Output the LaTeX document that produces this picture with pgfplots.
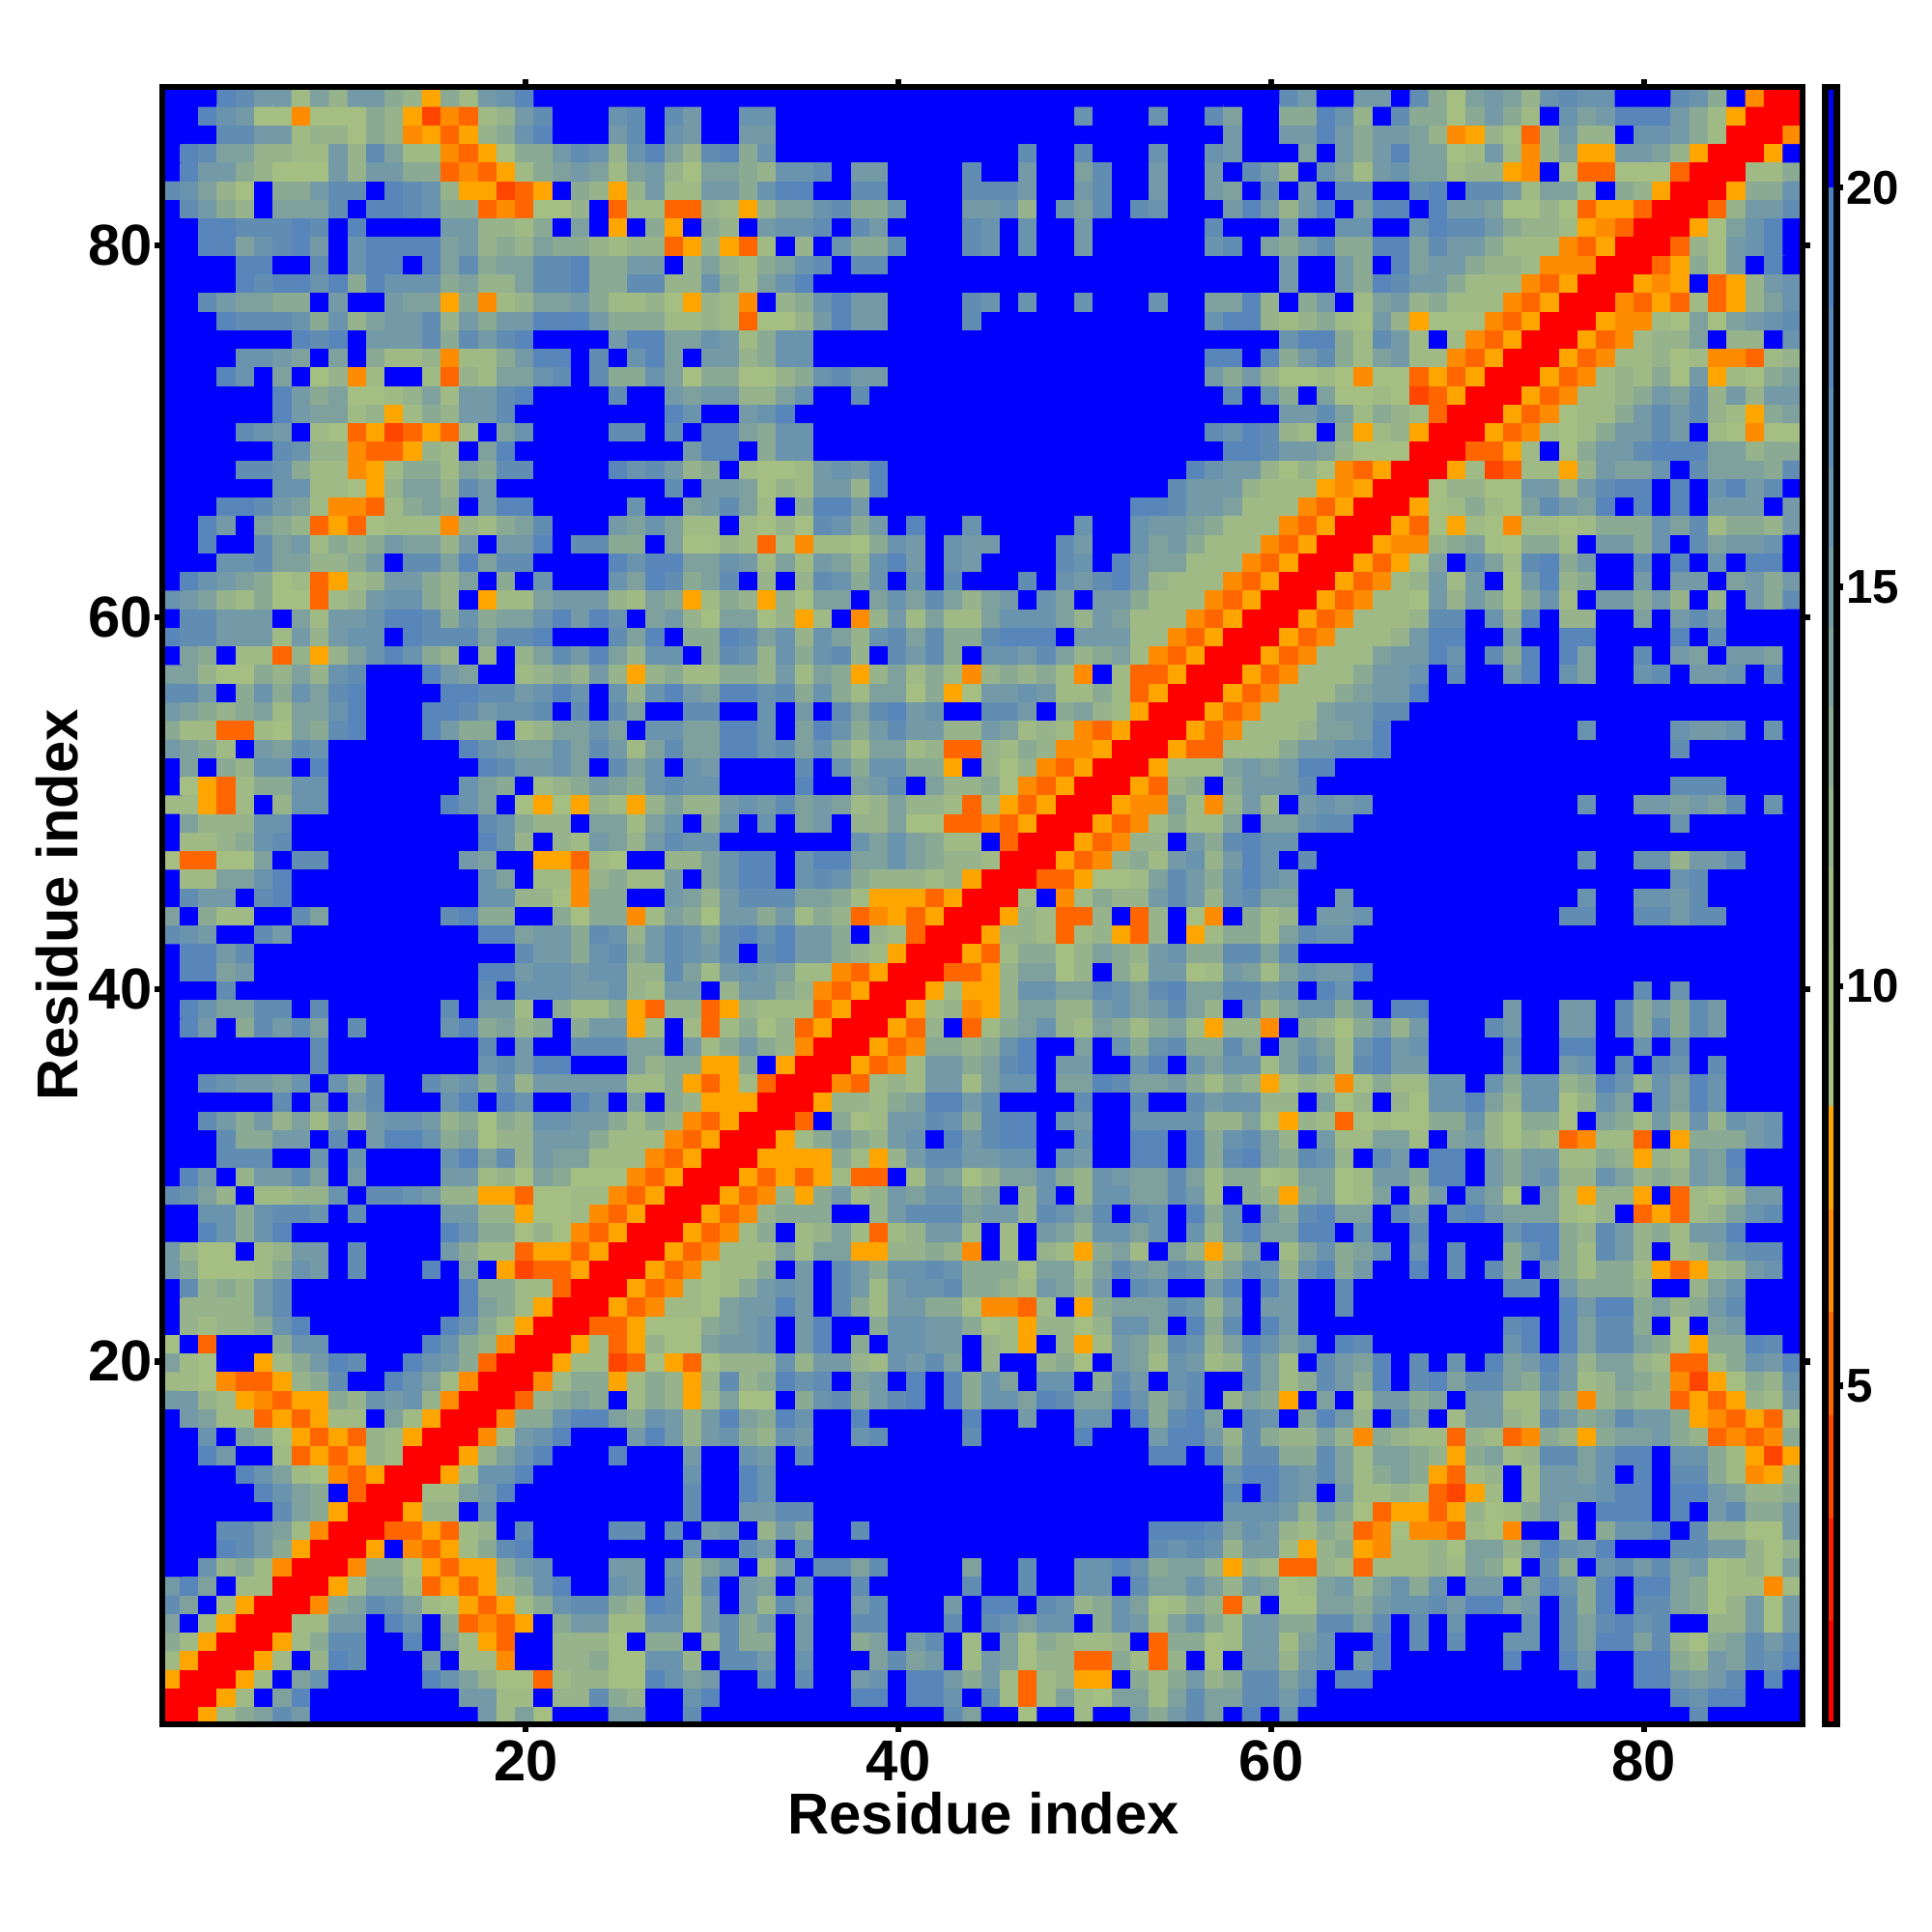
\documentclass[border=0pt]{standalone}
\usepackage{fontspec}
\setmainfont{Liberation Sans}
\usepackage{pgfplots}
\pgfplotsset{compat=1.18}
\newcount\cx \newcount\cy
\def\R#1#2#3{\cy=#1\relax\cx=#2\relax\advance\cx by -1\relax\scan#3 @ }
\def\scan#1 {\ifx @#1\else\advance\cx by 1\relax
 \ifnum\cx>\cy\else
 \expandafter\gdef\csname M\the\cx.\the\cy\endcsname{#1}%
 \expandafter\gdef\csname M\the\cy.\the\cx\endcsname{#1}\fi
 \expandafter\scan\fi}
% y = 88 ... 1: values from the start column given, for x <= y; cells not listed are > 20 (value 21)
\R{88}{1}{21 21 21 18 17 15 15 11 14 12 15 15 13 12 8 13 11 15 16 18}
\R{88}{61}{17 15 21 21 15 15}
\R{88}{67}{21 17 13 10 14 15 14 12 16 17 16 16 21 21 21 17 16 13 21 6 2 2}
\R{87}{1}{21 21 18 16 15 10 10 6 10 10 10 13 12 8 4 6 5 11 12 15 17 21}
\R{87}{25}{16 17 21 17 15 21 21 16 16}
\R{87}{50}{16}\R{87}{54}{16}
\R{87}{57}{17 14 21 21 13 13 18 16 12 21}
\R{87}{67}{17 13 13 10 13 15 13 11 21 16 14 15 18 18 18 15 13 11 8 2 2}
\R{86}{1}{21 21 21 17 17 15 15 11 12 12 10 13 12 6 8 5 8 12 13 16 18 21}
\R{86}{25}{15 17 21 16 15 21 21 15 15}
\R{86}{58}{15 21 21 15 15 18 15 13 15}
\R{86}{67}{15 14 12 6 8 12 10 5 12 15 12 12 21 16 16 15 13 11 2 2}
\R{85}{1}{21 18 17 14 14 12 12 11 11 15 12 17 14 11 11 6 5 8 10 13 13 15}
\R{85}{23}{17 16 12 16 18 14 12 17 18 13 16}
\R{85}{47}{17}\R{85}{50}{17}\R{85}{54}{16}
\R{85}{57}{16 15 21 21 21 14 21 15 13 15}
\R{85}{67}{18 14 14 10 11 15 11 6 12 14 8 8 15 15 14 12 8 2 2}
\R{84}{1}{21 18 15 15 13 12 10 10 10 15 12 15 15 13 13 5 6 5 8 11 13 14}
\R{84}{23}{15 14 11 14 15 12 10 14 14 13 12 16 16 17 21 15 15 21 21 21 21 17}
\R{84}{47}{15}\R{84}{50}{14 17}\R{84}{54}{15}
\R{84}{57}{15 21 17 15 12 21 16 14 11 15}
\R{84}{67}{16 14 14 11 12 12 8 6 21 10 5 5 10 10 10 5 2 2}
\R{83}{1}{17 16 14 12 10 21 13 13 15 17 17 21 18 17 16 12 8 8 4 5 8 21}
\R{83}{23}{13 12 8 12 15 11 11 15 15 13 16 18 18 21 21 17 17 21 21 21 21 17}
\R{83}{45}{17 17 15}\R{83}{50}{15 17}\R{83}{54}{15}
\R{83}{57}{15 14 21 17 21 15 21 17 17 21}
\R{83}{67}{21 17 18 21 17 17 15 11 14 14 11 21 13 12 8 2 2}
\R{82}{1}{21 17 15 13 12 21 14 14 14 17 21 18 18 17 16 13 13 5 6 5 10 10}
\R{82}{23}{12 21 5 11 11 5 5 12 11 8 12 14 14 16 17 13 13 16 21 21 21 15}
\R{82}{45}{15 16 12 21 16 14 17 21 17 16}
\R{82}{58}{15 18 15 12 15 18 21 14 18}
\R{82}{67}{18 21 18 15 15 14 10 10 12 10 5 8 8 5 2 2}
\R{81}{1}{21 21 18 18 17 17 17 18 17 21 18 21 21 21 21 15 15 12 12 11 13 21}
\R{81}{23}{14 21 8 21 13 8 21 13 12 21 15 16 16 17 21 17 15 21 21 21 21 17}
\R{81}{45}{16 21 16}\R{81}{50}{15}
\R{81}{57}{17 21 21 21 15 21 21 16 16 21}
\R{81}{67}{21 16 18 17 17 15 13 12 12 11 8 6 5 2 2}
\R{80}{1}{21 21 18 18 14 16 17 18 15 21 16 18 18 18 18 14 15 12 13 12 14 13}
\R{80}{23}{13 12 11 12 12 5 8 12 8 5 11 21 12 21 16 13 13 17 21 21 21 17}
\R{80}{45}{16 21 16}\R{80}{50}{15}
\R{80}{57}{16 17 21 14 13 15 17 13 13 18}
\R{80}{67}{18 14 17 15 15 13 11 11 11 6 5 8 2 2}
\R{79}{1}{21 21 21 21 18 18 21 21 17 21 16 18 18 21 18 14 17 13 14 14 17 17}
\R{79}{23}{18 13 13 15 15 21 12 14 12 11 13 14 16 17 21 17 17}
\R{79}{61}{15 21 21 15 13 21}
\R{79}{67}{18 14 15 15 13 12 12 11 6 6 6 2 2}
\R{78}{1}{21 21 21 21 18 17 18 18 16 18 13 18 16 16 16 13 14 12 12 14 17 17}
\R{78}{23}{18 13 13 17 17 12 12 16 13 11 14 16 18}
\R{78}{61}{15 21 21 15 13 18}
\R{78}{67}{17 15 15 13 11 11 11 6 5 8 2 2}
\R{77}{1}{21 21 17 15 14 14 13 13 21 15 21 21 15 14 14 8 13 6 11 12 14 14}
\R{77}{23}{15 13 11 11 12 10 8 12 11 6 21 12 13 16 18 15 15 21 21 21 21 17}
\R{77}{45}{16 21 16}\R{77}{50}{16}\R{77}{54}{16}
\R{77}{57}{14 14 18 12 21 13 15 21 11 14}
\R{77}{67}{15 12 13 11 11 11 6 5 8 2 2}
\R{76}{1}{21 21 21 18 17 17 17 16 13 16 12 14 15 15 17 12 15 13 15 15 18 18}
\R{76}{23}{18 15 13 13 13 11 11 12 11 5 10 10 12 15 18 15 15 21 21 21 21 17}
\R{76}{57}{16 18 18 12 11 12 13 11 10 15}
\R{76}{67}{12 8 10 10 10 6 5 8 2 2}
\R{75}{8}{18 17 18 21 15 15 15 17 13 17 15 17 18 21 21}
\R{75}{23}{21 21 15 18 18 14 14 16 15 11 13 16 16}
\R{75}{61}{16 18 18 13 11 17}
\R{75}{67}{15 11 21 11 6 5 8 2 2}
\R{74}{1}{21 21 21 21 16 16 15 14 21 14 21 13 11 11 12 6 11 11 13 15 18 18}
\R{74}{23}{21 17 21 16 18 14 21 15 15 12 13 16 16}
\R{74}{57}{18 18 21 18 13 15 17 13 11 14}
\R{74}{67}{15 11 11 6 5 8 2 2}
\R{73}{1}{21 21 21 18 16 21 14 21 10 12 6 11 21 21 11 5 12 11 14 14 16 17}
\R{73}{23}{21 17 13 13 16 14 10 13 13 10 10 12 13 16 17 15 15}
\R{73}{57}{15 13 15 12 10 10 11 9 6 10}
\R{73}{67}{10 5 8 5 8 2 2}
\R{72}{7}{18 15 13 14 10 10 11 12 14 11 15 15 17 18 21 21}
\R{72}{23}{21 21 17 21 21 15 14 15 15 12 12 14 16 21 21 17}
\R{72}{58}{17 21 16 13 21 14 10 10 11}
\R{72}{67}{10 4 5 8 2 2}
\R{71}{7}{18 15 14 14 11 12 8 11 13 12 15 15 17}
\R{71}{28}{18 16 21 21 15 16 18}
\R{71}{61}{15 15 17 14 11 13}
\R{71}{67}{12 11 5 2 2}
\R{70}{1}{21 21 21 21 17 16 15 21 11 10 5 8 4 5 8 5 11 21 14 16}
\R{70}{25}{17 17 21 17 21 18 18 14 13 16 16}
\R{70}{57}{17 16 18 17 12 11 21 13 8 11}
\R{70}{67}{12 8 2 2}
\R{69}{7}{17 16 12 12 6 5 5 8 12 11 21 14 18}
\R{69}{29}{15 18 18 21 13 16 16}
\R{69}{58}{18 18 17 15 15 14 12 10 10}
\R{69}{67}{10 2 2}
\R{68}{5}{17 17 16 13 11 11 6 8 11 13 13 11 14 13 17 17}
\R{68}{25}{18 16 17 15 12 13 21 11 10 10 11 15 16 15 18}
\R{68}{56}{18 16 15 15 12 10 12 10 6 5 8}
\R{68}{67}{2 2}
\R{67}{7}{16 16 11 11 10 8 12 14 14 12 17 15}
\R{67}{28}{17 21 15 15 14 10 12 11 15 15 12 18}
\R{67}{55}{17 15 15 15 12 11 11 11 8 6 8 2}
\R{67}{67}{2}
\R{66}{1}{21 21 21 18 18 17 15 14 11 6 6 5 11 13 14 13 21 15 18 18 21 21}
\R{66}{23}{21 21 21 16 21 21 14 15 17 14 11 21 13 18 18 15}
\R{66}{53}{18 18 17 15 15 14 11 11 11 6 5 8 2 2}
\R{65}{1}{21 21 18 15 21 14 13 12 5 8 5 10 11 11 11 6 12 11 13 14 17 21}
\R{65}{23}{21 21 15 14 16 14 11 11 21 11 10 12 10 17 16 13 15 21 18 21 21 16}
\R{65}{50}{16 21 21 16 15 15 14 13 11 11 11 6 5 8 2 2}
\R{64}{1}{21 21 18 21 21 17 14 15 11 13 12 13 15 14 14 12 15 21 15 15 18 21}
\R{64}{23}{17 17 13 13 21 14 10 10 12 11 5 10 6 11 11 10 13 16 15 21 16 15}
\R{64}{45}{15 21 21 21 17 15 21 21 16 14 15 13 11 11 11 6 5 8 2 2}
\R{63}{1}{21 21 21 16 16 17 14 14 12 12 13 15 21 17 17 14 18 14 17 17 21 21}
\R{63}{23}{21 21 18 16 18 18 14 14 16 15 11 14 11 15 14 12 16 18 15 21 16 15}
\R{63}{45}{21 21 21 21 17 16 21 18 15 14 14 11 11 11 6 5 8 2 2}
\R{62}{1}{21 18 16 15 14 13 10 11 5 8 11 12 15 15 13 12 14 21 13 21 16 21}
\R{62}{23}{21 21 16 14 18 17 13 14 17 21 12 21 12 17 16 13 16 21 16 21 17 21}
\R{62}{45}{21 21 17 21 16 15 17 18 15 12 11 11 11 6 5 8 2 2}
\R{61}{1}{16 15 14 12 11 13 10 10 5 11 12 15 16 16 13 12 21 8 11 11 14 15}
\R{61}{23}{15 15 12 11 14 13 8 11 13 12 8 12 10 14 14 21 14 16 14 17 14 12}
\R{61}{45}{14 15 21 16 14 21 15 15 13 11 11 11 6 5 8 2 2}
\R{60}{1}{21 17 17 15 15 15 21 14 11 15 15 16 18 18 17 13 16 13 14 14 16 18}
\R{60}{23}{15 18 16 21 14 15 12 10 14 14 10 12 8 11 21 6 12 15 11 14 11 11}
\R{60}{45}{14 16 16 16 14 12 15 14 11 11 11 6 5 8 2 2}
\R{59}{1}{18 17 17 15 15 15 11 15 12 15 16 16 21 18 17 17 17 14 17 17 18 21}
\R{59}{23}{21 21 17 14 18 21 13 13 18 17 14 16 12 16 14 12 16 17 14 17 13 13}
\R{59}{45}{17 18 18 18 21 15 15 15 11 11 6 5 8 2 2}
\R{58}{1}{21 14 13 21 11 11 5 12 8 12 14 16 18 16 13 12 21 12 21 12 14 17}
\R{58}{23}{15 18 14 12 16 16 21 13 17 16 12 16 13 16 17 12 21 17 15 17 13 21}
\R{58}{45}{16 16 15 17 14 12 13 14 11 6 5 8 2 2}
\R{57}{1}{14 14 12 10 10 13 12 14 12 16 17 21 21 21 18 15 14 21 21 11 12 13}
\R{57}{23}{12 15 12 8 12 13 11 11 13 13 12 15 11 14 13 8 12 14 11 13 11 6}
\R{57}{45}{12 13 12 13 11 6 21 11 5 5 8 2 2}
\R{56}{1}{17 17 15 21 13 16 13 16 14 17 18 21 21 21 21 18 18 17 17 15 16 18}
\R{56}{23}{16 21 16 12 16 18 15 14 18 18 16 17 13 16 13 11 14 14 10 13 8 10}
\R{56}{45}{15 15 16 15 11 11 13 11 5 8 2 2}
\R{55}{1}{15 14 13 12 13 14 11 14 14 16 18 21 21 21 18 18 17 15 16 16 17 21}
\R{55}{23}{17 21 17 14 21 21 17 17 21 21 16 21 15 21 17 14 17 18 15 16 21 21}
\R{55}{45}{17 17 15 21 13 14 12 11 8 2 2}
\R{54}{1}{13 11 11 5 5 11 10 14 13 17 18 21 21 21 18 15 13 13 21 11 12 14}
\R{54}{23}{14 16 14 21 16 16 14 14 18 18 16 21 14 18 16 13 15 17 15 15 12 12}
\R{54}{45}{15 14 11 12 11 6 5 8 2 2}
\R{53}{1}{15 14 13 11 21 15 14 17 16 21 21 21 21 21 21 21 18 16 15 14 14 16}
\R{53}{23}{14 17 15 11 14 17 14 14 18 18 16 17 14 16 13 11 14 14 11 12 5 5}
\R{53}{45}{12 11 13 12 6 6 8 2 2}
\R{52}{1}{21 14 21 13 12 16 16 21 18 21 21 21 21 21 21 21 21 18 17 15 15 16}
\R{52}{23}{14 21 17 14 16 21 16 15 21 21 21 21 17 21 16 13 16 16 13 13 8 21}
\R{52}{45}{12 10 12 6 5 8 2 2}
\R{51}{1}{21 10 8 5 11 13 13 16 16 21 21 21 21 21 21 21 16 14 13 21 11 12}
\R{51}{23}{13 15 14 13 16 17 16 16 21 21 21 21 18 21 21 14 15 17 21 14 12 12}
\R{51}{45}{13 10 6 5 8 2 2}
\R{50}{1}{11 11 8 5 11 21 12 16 16 21 21 21 21 21 21 18 16 14 21 10 8 10}
\R{50}{23}{8 12 11 8 12 14 12 12 15 16 15 17 14 15 14 11 12 14 12 12 11 5}
\R{50}{45}{11 8 5 8 2 2}
\R{49}{1}{21 14 12 12 12 16 16 21 21 21 21 21 21 21 21 21 21 17 16 13 12 12}
\R{49}{23}{21 14 14 11 14 16 21 13 16 21 16 21 14 15 21 12 12 14 10 10 5 5}
\R{49}{45}{6 5 8 2 2}
\R{48}{1}{21 11 11 12 13 16 17}\R{48}{18}{18 16 12 21 12}
\R{48}{23}{11 15 14 12 15 17 16 16 21 21 21 21 21 21 21 16 14 16 14 13 11 11}
\R{48}{45}{21 5 2 2}
\R{47}{1}{10 5 5 10 10 14 21 17 17 21 21 21 21 21 21 21 15 14 21 21 8 8}
\R{47}{23}{5 11 10 21 21 12 12 14 16 18 18 21 16 18 18 14 14 16 14 13 12 12}
\R{47}{45}{11 2 2}
\R{46}{1}{21 11 11 14 14 16 18}\R{46}{18}{16 14 21 11 11}
\R{46}{23}{6 12 13 11 11 15 21 14 16 18 18 21 16 17 16 13 12 12 12 11 12 8}
\R{46}{45}{2 2}
\R{45}{1}{21 17 15 15 21 17 18}\R{45}{18}{16 16 12 12 10}
\R{45}{23}{6 13 13 21 21 15 14 12 15 17 17 17 14 14 13 11 8 8 8 5 8 2}
\R{45}{45}{2}
\R{44}{1}{14 21 13 11 11 21 21 17 14 21 21 21 21 21 21 17 18 13 13 21 21 13}
\R{44}{23}{10 13 13 6 11 14 13 10 15 15 13 15 11 13 12 5 6 8 5 8 2 2}
\R{43}{1}{17 16 15 21 21 17 15}\R{43}{18}{18 18 14 15 15}
\R{43}{23}{13 17 16 12 15 17 16 14 17 18 16 18 15 15 13 21 12 11 5 2 2}
\R{42}{1}{21 18 18 15 17}\R{42}{20}{17 15 15}
\R{42}{23}{13 16 17 13 15 17 16 15 17 21 17 18 15 15 13 12 11 8 2 2}
\R{41}{1}{21 18 18 14 15}\R{41}{18}{18 18 15 16 16}
\R{41}{23}{15 16 16 12 12 17 14 11 15 16 15 14 11 11 6 5 8 2 2}
\R{40}{1}{21 21 21 17}\R{40}{18}{17 21 16 16 16}
\R{40}{23}{15 15 16 12 11 15 15 21 12 15 15 13 12 6 5 8 2 2}
\R{39}{1}{21 18 16 14 14 17 17 21 17}\R{39}{16}{17 21 15 15 11 21 13}
\R{39}{23}{11 11 13 8 5 12 12 5 8 12 11 11 11 5 8 2 2}
\R{38}{1}{21 18 15 21 13 17 15 17 14 21 17}\R{38}{16}{16 18 13 14 12 13}
\R{38}{23}{13 15 15 8 11 21 11 5 11 13 10 12 5 8 2 2}
\R{37}{9}{17}\R{37}{18}{17 21 15}
\R{37}{23}{17 17 17 14 14 21 15 11 13 15 13 12 6 2 2}
\R{36}{9}{17}\R{36}{18}{16 17 15 18 18}
\R{36}{23}{21 21 21 14 12 13 13 8 8 13 21 8 2 2}
\R{35}{1}{21 21 17 16 15 15 14 16 21 16 13 17 21 21 17 15 16 13 16 12 15 15}
\R{35}{23}{15 15 15 11 11 13 8 5 8 11 5 2 2}
\R{34}{7}{17 21 15 21 15 17 21 21 21 16 18 21 18 16}
\R{34}{23}{18 16 21 14 21 13 12 8 8 8 2 2}
\R{33}{1}{21 21 17 15 13 15 12 14 11 15 12 15 16 16 15 12 13 10 13 12 16 16}
\R{33}{23}{15 15 13 11 13 12 6 5 8 2 2}
\R{32}{1}{21 21 21 17 13 13 15 15 21 17 21 15 18 18 16 13 14 10 12 12 15 15}
\R{32}{23}{15 13 11 11 11 6 5 8 2 2}
\R{31}{1}{21 21 21 17 17 17 21 21 16 21 16 21 21 21 21 16 18 14 17 12 15 14}
\R{31}{23}{14 11 11 11 6 5 8 2 2}
\R{30}{1}{21 18 15 21 12 15 15 17 14 21 15 21 21 21 21 15 15 11 12 10 14 13}
\R{30}{23}{10 10 10 6 5 8 2 2}
\R{29}{1}{17 16 14 12 21 11 11 12 12 16 21 17 17 16 15 12 12 8 8 5 10 10}
\R{29}{23}{11 11 6 5 8 2 2}
\R{28}{1}{21 21 16 16 13 16 17 17 16 21 17 21 21 21 21 15 15 12 12 8 10 10}
\R{28}{23}{11 6 5 8 2 2}
\R{27}{1}{21 21 18 16 13 16 18}\R{27}{16}{18 16 13 13 10 12 10}
\R{27}{23}{6 5 8 2 2}
\R{26}{1}{15 12 10 10 21 11 12 15 15 21 17 21 21 21 21 15 13 11 11 5 8 8}
\R{26}{23}{5 8 2 2}
\R{25}{1}{15 13 10 10 10 11 13 16 15 21 17 21 21 21 18 21 14 21 8 4 5 5}
\R{25}{23}{8 2 2}
\R{24}{1}{21 17 12 13 12 15 17}\R{24}{17}{18 13 13 11 11 5}
\R{24}{23}{2 2}
\R{23}{1}{21 12 12 12 12 15 17}\R{23}{17}{18 14 13 11 8 2}
\R{23}{23}{2}
\R{22}{1}{21 12 11 12 12 13 16 18}\R{22}{16}{18 16 13 11 8 2 2}
\R{21}{1}{10 21 5 21 21 21 13 16 16}\R{21}{15}{18 16 13 12 6 2 2}
\R{20}{1}{14 11 10 21 21 8 11 13 15 18 17 21 21 18 16 15 13 5 2 2}
\R{19}{1}{11 11 10 6 5 5 8 12 13 17 21 21 18 16 14 11 6 2 2}
\R{18}{1}{15 15 12 11 8 6 5 8 8 13 12 16 15 16 12 6 2 2}
\R{17}{1}{21 15 14 11 11 5 8 5 8 11 11 21 14 11 8 2 2}
\R{16}{1}{21 21 16 21 14 13 10 8 5 8 5 12 11 8 2 2}
\R{15}{1}{21 21 18 15 21 21 11 5 8 5 8 12 11 2 2}
\R{14}{1}{21 21 21 21 18 16 14 11 10 6 5 8 2 2}
\R{13}{1}{21 21 21 21 21 18 16 14 13 21 5 2 2}
\R{12}{1}{21 21 21 21 21 21 17 14 13 8 2 2}
\R{11}{1}{21 21 21 17 17 15 14 11 6 2 2}
\R{10}{1}{21 21 21 18 17 15 13 8 2 2}
\R{9}{1}{21 21 16 12 13 11 6 2 2}
\R{8}{1}{15 18 14 21 11 11 2 2}
\R{7}{1}{17 14 21 11 8 2 2}
\R{6}{1}{14 21 11 8 2 2}
\R{5}{1}{13 11 8 2 2}
\R{4}{1}{11 8 2 2}
\R{3}{1}{8 2 2}
\R{2}{1}{2 2}
\R{1}{1}{2}
\gdef\all{}
\foreach \yy in {1,...,88}{%
  \gdef\rowacc{}%
  \foreach \xx in {1,...,88}{%
    \xdef\rowacc{\rowacc(\xx,\yy)[\ifcsname M\xx.\yy\endcsname\csname M\xx.\yy\endcsname\else 21\fi] }%
  }%
  \xdef\all{\all\rowacc}%
}
\def\doplot#1{\addplot[matrix plot*, mesh/cols=88, point meta=explicit] coordinates {#1};}
\definecolor{b1}{RGB}{255,0,0}\definecolor{b2}{RGB}{255,34,0}\definecolor{b3}{RGB}{255,69,0}
\definecolor{b4}{RGB}{255,102,0}\definecolor{b5}{RGB}{255,140,0}\definecolor{b6}{RGB}{255,165,0}
\definecolor{g9}{RGB}{168,192,128}\definecolor{g10}{RGB}{165,190,130}\definecolor{g11}{RGB}{160,186,134}
\definecolor{g12}{RGB}{150,179,140}\definecolor{g13}{RGB}{138,170,148}\definecolor{g14}{RGB}{126,161,158}
\definecolor{g15}{RGB}{115,154,166}\definecolor{g16}{RGB}{106,147,173}\definecolor{g17}{RGB}{98,141,179}
\definecolor{g18}{RGB}{89,134,186}\definecolor{g19}{RGB}{80,128,192}
\newcommand\band[2]{\addplot[draw=none,fill=#2] coordinates {(0,#1)(1,#1)(1,21.26)(0,21.26)} -- cycle;}
\begin{document}
\begin{tikzpicture}
\path[use as bounding box] (0,0) rectangle (10cm,10cm);
\begin{axis}[
  at={(0.84cm,1.075cm)},anchor=south west,scale only axis,width=8.49cm,height=8.475cm,
  xmin=0.5,xmax=88.5,ymin=0.5,ymax=88.5,
  xtick={20,40,60,80},ytick={20,40,60,80},
  tick align=outside,tick pos=both,xticklabel pos=bottom,yticklabel pos=left,
  major tick length=1.1pt,tick style={line width=0.9pt,black},
  axis line style={line width=0.95pt},axis on top,
  /pgf/number format/assume math mode=true,
  tick label style={font=\fontsize{8.5}{10}\selectfont\bfseries},
  xticklabel style={yshift=2.2pt},yticklabel style={xshift=3.2pt},
  label style={font=\fontsize{8.5}{10}\selectfont\bfseries},
  xlabel={Residue index},ylabel={Residue index},
  xlabel style={at={(axis description cs:0.5006,-0.0543)},anchor=center},
  ylabel style={at={(axis description cs:-0.0642,0.5003)},anchor=center},
  colormap={dist}{rgb255=(255,0,0) rgb255=(255,0,0) rgb255=(255,34,0) rgb255=(255,69,0) rgb255=(255,102,0)
    rgb255=(255,140,0) rgb255=(255,165,0) rgb255=(255,165,0)
    rgb255=(168,192,128) rgb255=(165,190,130) rgb255=(160,186,134) rgb255=(150,179,140) rgb255=(138,170,148)
    rgb255=(126,161,158) rgb255=(115,154,166) rgb255=(106,147,173) rgb255=(98,141,179) rgb255=(89,134,186)
    rgb255=(80,128,192) rgb255=(80,128,192) rgb255=(0,0,255)},
  colormap access=piecewise constant,
  point meta min=0.5,point meta max=21.5,
]
\expandafter\doplot\expandafter{\all}
\end{axis}
\begin{axis}[
  at={(9.4475cm,1.075cm)},anchor=south west,scale only axis,width=0.06cm,height=8.475cm,
  xmin=0,xmax=1,ymin=0.76,ymax=21.26,xtick=\empty,
  ytick={5,10,15,20},tick align=outside,tick pos=right,yticklabel pos=right,
  major tick length=0.9pt,tick style={line width=0.9pt,black},
  axis line style={line width=0.9pt},axis on top,
  /pgf/number format/assume math mode=true,
  tick label style={font=\fontsize{7}{8}\selectfont\bfseries},
  yticklabel style={xshift=-3pt},
]
\band{0.76}{b1}\band{2.05}{b2}\band{3.34}{b3}\band{4.63}{b4}\band{5.92}{b5}\band{7.21}{b6}
\band{8.5}{g9}\band{9.5}{g10}\band{10.5}{g11}\band{11.5}{g12}\band{12.5}{g13}\band{13.5}{g14}
\band{14.5}{g15}\band{15.5}{g16}\band{16.5}{g17}\band{17.5}{g18}\band{18.5}{g19}\band{20}{blue}
\end{axis}
\end{tikzpicture}
\end{document}
